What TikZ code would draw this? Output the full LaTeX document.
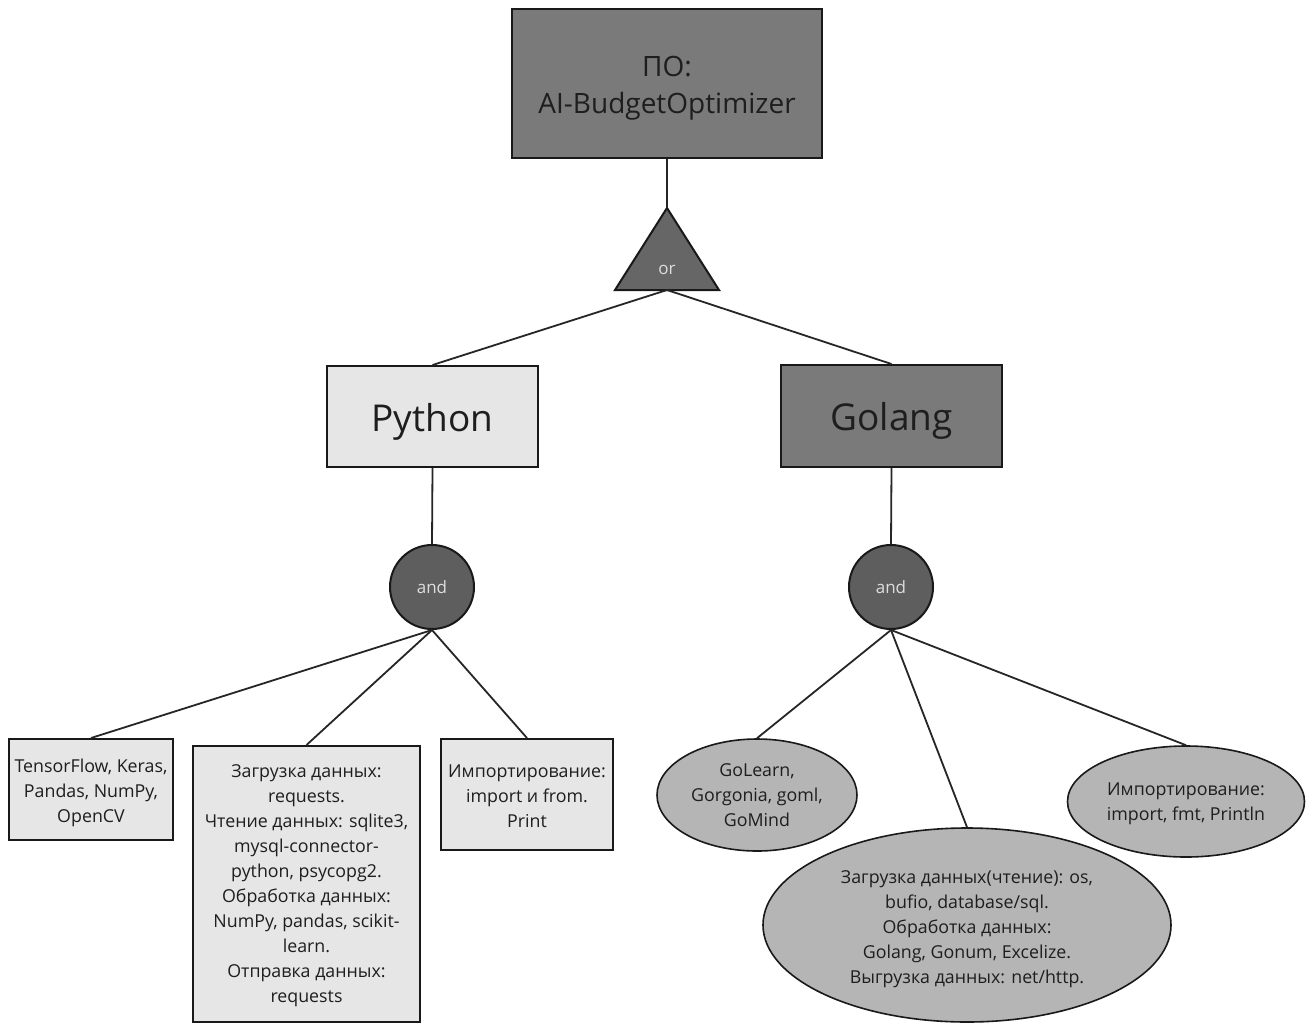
\documentclass[tikz,border=0pt]{standalone}
\usepackage{fontspec}
\setmainfont{Open Sans}
\usetikzlibrary{shapes.geometric}
\definecolor{darkbox}{HTML}{7A7A7A}
\definecolor{lightbox}{HTML}{E6E6E6}
\definecolor{gate}{HTML}{5E5E5E}
\definecolor{trig}{HTML}{666666}
\definecolor{ell}{HTML}{B5B5B5}
\definecolor{txt}{HTML}{1E1E1E}
\definecolor{gatetxt}{HTML}{DDDDDD}
\newcommand{\sdown}[1]{\rule{0pt}{#1}}
\tikzset{
  box/.style={draw=black!90, line width=2pt, rectangle, inner sep=0pt, align=center, text=txt,
    font=\fontsize{17.8}{25}\selectfont},
  oval/.style={draw=black!90, line width=1.6pt, ellipse, inner sep=0pt, align=center, fill=ell, text=txt,
    font=\fontsize{17.8}{25}\selectfont},
  gatec/.style={draw=black!90, line width=2pt, circle, inner sep=0pt, minimum size=84pt, fill=gate,
    text=gatetxt, font=\fontsize{17}{20}\selectfont},
  conn/.style={line width=1.8pt, draw=black!85},
}
\begin{document}
\begin{tikzpicture}[x=1pt,y=-1pt]
\fill[white] (0,0) rectangle (1306,1023);
\useasboundingbox (0,0) rectangle (1306,1023);
% root
\node[box, fill=darkbox, minimum width=310pt, minimum height=149pt, font=\fontsize{28}{37}\selectfont]
  (root) at (667,83.5) {\sdown{29pt}ПО:\\AI-BudgetOptimizer};
% or gate
\coordinate (orTop) at (667,208);
\coordinate (orBase) at (667,290);
\filldraw[fill=trig, draw=black!90, line width=2pt, line join=miter] (orTop) -- (719,290) -- (615,290) -- cycle;
\node[text=gatetxt, font=\fontsize{17}{20}\selectfont] (or) at (667,270) {or};
% languages
\node[box, fill=lightbox, minimum width=211pt, minimum height=101pt, font=\fontsize{37}{40}\selectfont,
  text height=38pt, text depth=9pt]
  (py) at (432.5,416.5) {Python};
\node[box, fill=darkbox, minimum width=221pt, minimum height=102pt, font=\fontsize{37}{40}\selectfont,
  text height=38pt, text depth=9pt]
  (go) at (891.5,416) {Golang};
% and gates
\node[gatec] (pand) at (432,587) {and};
\node[gatec] (gand) at (891,587) {and};
% python leaves
\node[box, fill=lightbox, minimum width=164pt, minimum height=101pt] (tf) at (91,789.5)
  {\sdown{20pt}TensorFlow, Keras,\\Pandas, NumPy,\\OpenCV};
\node[box, fill=lightbox, minimum width=227pt, minimum height=276pt] (load) at (306.5,884)
  {\sdown{17pt}Загрузка данных:\\requests.\\Чтение данных: sqlite3,\\mysql-connector-\\python, psycopg2.\\Обработка данных:\\NumPy, pandas, scikit-\\learn.\\Отправка данных:\\requests};
\node[box, fill=lightbox, minimum width=172pt, minimum height=111pt] (imp) at (527,794.5)
  {\sdown{16pt}Импортирование:\\import и from.\\Print};
% golang leaves
\node[oval, minimum width=200pt, minimum height=112pt] (gl) at (757,795)
  {GoLearn,\\Gorgonia, goml,\\GoMind};
\node[oval, minimum width=408pt, minimum height=194pt] (gload) at (967,925)
  {\sdown{22pt}Загрузка данных(чтение): os,\\bufio, database/sql.\\Обработка данных:\\Golang, Gonum, Excelize.\\Выгрузка данных: net/http.};
\node[oval, minimum width=237pt, minimum height=111pt] (gimp) at (1186,801.5)
  {\sdown{17pt}Импортирование:\\import, fmt, Println};
% connectors
\draw[conn] (root.south) -- (orTop);
\draw[conn] (orBase) -- (py.north);
\draw[conn] (orBase) -- (go.north);
\draw[conn] (py.south) -- (pand.north);
\draw[conn] (go.south) -- (gand.north);
\draw[conn] (pand.south) -- (tf.north);
\draw[conn] (pand.south) -- (load.north);
\draw[conn] (pand.south) -- (imp.north);
\draw[conn] (gand.south) -- (gl.north);
\draw[conn] (gand.south) -- (gload.north);
\draw[conn] (gand.south) -- (gimp.north);
\end{tikzpicture}
\end{document}
